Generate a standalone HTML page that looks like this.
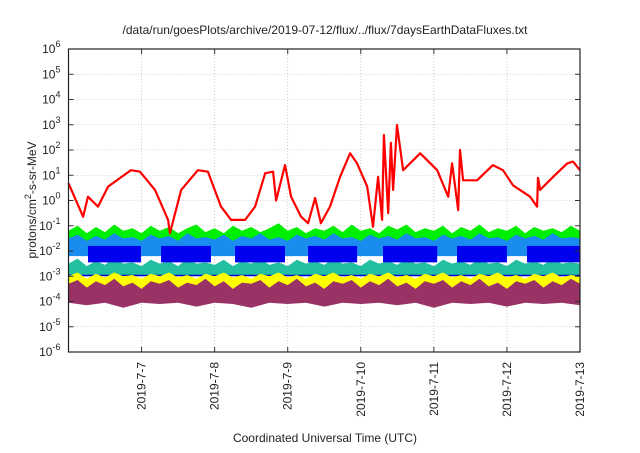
<!DOCTYPE html>
<html><head><meta charset="utf-8"><style>
body{margin:0;background:#fff;font-family:"Liberation Sans",sans-serif}
svg text{font-family:"Liberation Sans",sans-serif;fill:#222}
</style></head><body>
<svg id="c" width="640" height="448" viewBox="0 0 640 448">
<text x="325" y="34" text-anchor="middle" font-size="12">/data/run/goesPlots/archive/2019-07-12/flux/../flux/7daysEarthDataFluxes.txt</text>
<text x="325" y="442" text-anchor="middle" font-size="12">Coordinated Universal Time (UTC)</text>
<text transform="translate(36,200) rotate(-90)" text-anchor="middle" font-size="12">protons/cm<tspan dy="-5" font-size="9">2</tspan><tspan dy="5">-s-sr-MeV</tspan></text>
<g id="grid"></g><g id="marks"></g><g id="axes"></g>
</svg>
<script>
// red series: hours since 2019-07-06 00:00 and log10 flux
const redHours=[0,4.8,6.4,9.7,13.0,20.5,23.5,28.4,32.7,33.3,37.0,42.5,45.8,50.1,53.4,58.0,61.3,64.6,67.2,68.2,71.1,73.1,76.4,78.7,81.0,82.9,85.9,89.2,92.5,94.8,98.1,100.0,101.7,103.0,103.6,105.0,105.9,106.6,107.9,109.9,115.5,121.1,124.7,126.0,128.0,128.6,129.6,134.2,139.4,142.7,146.0,151.6,153.9,154.2,154.9,159.2,163.8,165.7,168];
const redLog=[0.68,-0.64,0.15,-0.24,0.55,1.2,1.14,0.42,-0.77,-1.3,0.42,1.2,1.14,-0.24,-0.77,-0.77,-0.24,1.08,1.14,0.0,1.4,0.15,-0.64,-0.9,0.1,-0.9,-0.24,0.94,1.87,1.47,0.55,-1.04,0.94,-0.77,2.59,-0.5,2.28,0.42,2.99,1.2,1.87,1.2,0.15,1.47,-0.38,2.0,0.8,0.8,1.4,1.2,0.6,0.15,-0.24,0.9,0.42,0.94,1.47,1.54,1.2];
// noisy band envelopes (log10), evenly spaced over 7 days
const greenUp=[-1.2,-1.0,-1.3,-1.05,-1.25,-0.95,-1.2,-1.1,-1.3,-1.0,-1.2,-1.05,-1.3,-1.1,-0.95,-1.25,-1.1,-1.3,-1.0,-1.2,-1.05,-1.25,-1.1,-0.9,-1.2,-1.05,-1.3,-1.1,-1.2,-1.0,-1.25,-0.95,-1.2,-1.1,-1.3,-1.0,-1.15,-0.95,-1.25,-1.1,-1.2,-1.0,-1.3,-1.05,-1.2,-0.95,-1.25,-1.1,-1.2,-1.0,-1.3,-1.05,-1.2,-1.1,-1.25,-1.0,-1.2];
const greenLo=[-2.0,-2.0];
const lblueUp=[-1.5,-1.35,-1.6,-1.4,-1.55,-1.3,-1.5,-1.45,-1.6,-1.35,-1.5,-1.4,-1.6,-1.3,-1.5,-1.45,-1.55,-1.35,-1.6,-1.4,-1.5,-1.3,-1.55,-1.45,-1.6,-1.35,-1.5,-1.4,-1.55,-1.3,-1.5,-1.45,-1.6,-1.35,-1.5,-1.4,-1.55,-1.3,-1.5,-1.45,-1.6,-1.35,-1.5,-1.4,-1.55,-1.3,-1.5,-1.45,-1.6,-1.35,-1.5,-1.4,-1.55,-1.3,-1.5,-1.45,-1.5];
const lblueLo=[-2.2,-2.2];
const blueStartH=[6.4,30.4,54.7,78.7,103.3,127.6,150.6];
const blueEndH=[23.8,46.8,71.1,94.8,121.1,144.0,168];
const blueTop=-1.8, blueBottom=-2.45;
const tealUp=[-2.5,-2.3,-2.6,-2.4,-2.55,-2.25,-2.5,-2.45,-2.6,-2.35,-2.5,-2.4,-2.6,-2.3,-2.5,-2.45,-2.55,-2.35,-2.6,-2.4,-2.5,-2.3,-2.55,-2.45,-2.6,-2.35,-2.5,-2.4,-2.55,-2.3,-2.5,-2.45,-2.6,-2.35,-2.5,-2.4,-2.55,-2.3,-2.5,-2.45,-2.6,-2.35,-2.5,-2.4,-2.55,-2.3,-2.5,-2.45,-2.6,-2.35,-2.5,-2.4,-2.55,-2.3,-2.5,-2.45,-2.5];
const tealLo=[-2.95,-2.95];
const darkLine=-2.97;
const yellowUp=[-3.0,-2.85,-3.1,-2.9,-3.05,-2.85,-3.0,-2.95,-3.1,-2.9,-3.0,-2.85,-3.05,-2.95,-3.1,-2.9,-3.0,-2.85,-3.05,-2.95,-3.1,-2.9,-3.0,-2.85,-3.05,-2.95,-3.1,-2.9,-3.0,-2.85,-3.05,-2.95,-3.1,-2.9,-3.0,-2.85,-3.05,-2.95,-3.1,-2.9,-3.0,-2.85,-3.05,-2.95,-3.1,-2.9,-3.0,-2.85,-3.05,-2.95,-3.1,-2.9,-3.0,-2.85,-3.05,-2.95,-3.0];
const yellowLo=[-3.6,-3.6];
const maroonUp=[-3.3,-3.15,-3.45,-3.2,-3.35,-3.1,-3.4,-3.25,-3.5,-3.2,-3.3,-3.15,-3.45,-3.25,-3.35,-3.1,-3.4,-3.2,-3.5,-3.25,-3.3,-3.15,-3.45,-3.2,-3.35,-3.1,-3.4,-3.25,-3.5,-3.2,-3.3,-3.15,-3.45,-3.2,-3.35,-3.1,-3.4,-3.25,-3.5,-3.2,-3.3,-3.15,-3.45,-3.2,-3.35,-3.1,-3.4,-3.25,-3.5,-3.2,-3.3,-3.15,-3.45,-3.2,-3.35,-3.1,-3.3];
const maroonLo=[-4.05,-4.15,-4.05,-4.25,-4.05,-4.1,-4.05,-4.2,-4.05,-4.1,-4.25,-4.05,-4.1,-4.05,-4.2,-4.05,-4.1,-4.05,-4.15,-4.05,-4.25,-4.05,-4.1,-4.05,-4.2,-4.05,-4.1,-4.05,-4.15];
const yTickExp=[-6,-5,-4,-3,-2,-1,0,1,2,3,4,5,6];
const dayLabels=["2019-7-7","2019-7-8","2019-7-9","2019-7-10","2019-7-11","2019-7-12","2019-7-13"];

const X0=68.5,X1=580,Y0=49,Y1=352,DAYS=7;
const sx=d=>X0+(X1-X0)*d/DAYS;
const sxh=h=>sx(h/24);
const sy=l=>Y1-(Y1-Y0)*(l+6)/12;
const NS="http://www.w3.org/2000/svg";
function mk(tag,attrs,parent){const e=document.createElementNS(NS,tag);for(const k in attrs)e.setAttribute(k,attrs[k]);parent.appendChild(e);return e;}
const grid=document.getElementById('grid'),marks=document.getElementById('marks'),axes=document.getElementById('axes');

yTickExp.forEach(e=>{
  const y=sy(e);
  if(e>-6&&e<6){const g=mk('line',{x1:X0,x2:X1,y1:y,y2:y,stroke:'#aaa','stroke-width':0.6,'stroke-dasharray':'1,2'},grid);
  
  }
  const t=mk('text',{x:X0-8,y:y+4,'text-anchor':'end','font-size':12},axes);
  
  
  t.innerHTML='10<tspan dy="-6" font-size="9">'+e+'</tspan>';
  mk('line',{x1:X0,x2:X0+5,y1:y,y2:y,stroke:'#333'},axes);
  mk('line',{x1:X1,x2:X1-5,y1:y,y2:y,stroke:'#333'},axes);
});
dayLabels.forEach((s,i)=>{
  const x=sx(i+1);
  if(i<6){const g=mk('line',{x1:x,x2:x,y1:Y0,y2:Y1,stroke:'#aaa','stroke-width':0.6,'stroke-dasharray':'1,2'},grid);
  
  }
  mk('line',{x1:x,x2:x,y1:Y1,y2:Y1-5,stroke:'#333'},axes);
  mk('line',{x1:x,x2:x,y1:Y0,y2:Y0+5,stroke:'#333'},axes);
  const t=mk('text',{transform:`translate(${x+4},362) rotate(-90)`,'text-anchor':'end','font-size':12},axes);
  
  
  t.textContent=s;
});
const fr=mk('rect',{x:X0,y:Y0,width:X1-X0,height:Y1-Y0,fill:'none',stroke:'#222','stroke-width':1.2},axes);



function band(up,lo,color,name){
  const nu=up.length,nl=lo.length;let p=[];
  up.forEach((v,i)=>p.push(sx(i*DAYS/(nu-1)).toFixed(1)+','+sy(v).toFixed(1)));
  for(let i=nl-1;i>=0;i--)p.push(sx(i*DAYS/(nl-1)).toFixed(1)+','+sy(lo[i]).toFixed(1));
  const e=mk('polygon',{points:p.join(' '),fill:color},marks);
  
  
}
band(greenUp,greenLo,'#00ee00','green-series');
band(lblueUp,lblueLo,'#1a8cf0','light-blue-series');
band(tealUp,tealLo,'#22c0a0','teal-series');
blueStartH.forEach((h,i)=>{
  const r=mk('rect',{x:sxh(h),y:sy(blueTop),width:sxh(blueEndH[i])-sxh(h),height:sy(blueBottom)-sy(blueTop),fill:'#0000ee'},marks);
  
  
});
const dl=mk('line',{x1:X0,x2:X1,y1:sy(darkLine),y2:sy(darkLine),stroke:'#0000cc','stroke-width':1.5},marks);


band(yellowUp,yellowLo,'#ffff00','yellow-series');
band(maroonUp,maroonLo,'#993366','maroon-series');
const red=mk('polyline',{points:redHours.map((h,i)=>sxh(h).toFixed(1)+','+sy(redLog[i]).toFixed(1)).join(' '),fill:'none',stroke:'#ff0000','stroke-width':2.2,'stroke-linejoin':'round'},marks);


</script>
</body></html>
